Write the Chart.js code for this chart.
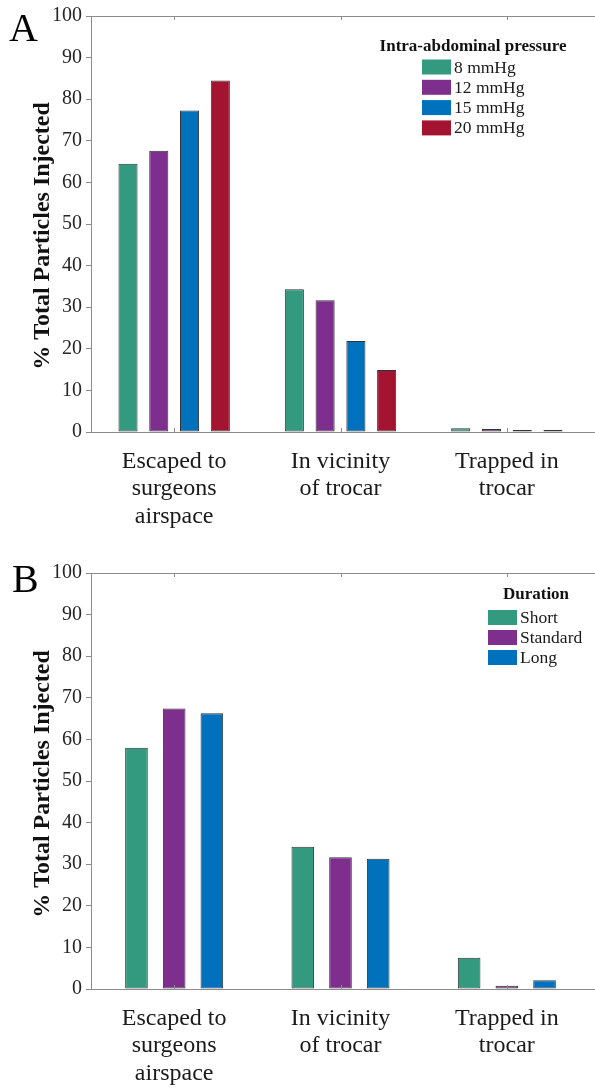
<!DOCTYPE html>
<html><head><meta charset="utf-8">
<script src="https://cdn.jsdelivr.net/npm/chart.js@4.4.1/dist/chart.umd.min.js"></script>
<style>
html,body{margin:0;padding:0;background:#fff;overflow:hidden;}
canvas{display:block;}
</style></head><body>
<canvas id="cA" width="595" height="544"></canvas>
<canvas id="cB" width="595" height="544"></canvas>
<script>
// ---- data ----
const categories = [["Escaped to","surgeons","airspace"],["In vicinity","of trocar"],["Trapped in","trocar"]];
const yTicks = [0,10,20,30,40,50,60,70,80,90,100];
const yAxisTitle = "% Total Particles Injected";

const pressureTitle = "Intra-abdominal pressure";
const pressureLabels = ["8 mmHg","12 mmHg","15 mmHg","20 mmHg"];
const p8  = [64.5, 34.3, 0.9];
const p12 = [67.6, 31.7, 0.7];
const p15 = [77.3, 21.9, 0.5];
const p20 = [84.5, 14.9, 0.5];

const durationTitle = "Duration";
const durationLabels = ["Short","Standard","Long"];
const dShort    = [58.0, 34.2, 7.5];
const dStandard = [67.4, 31.7, 0.8];
const dLong     = [66.3, 31.3, 2.1];

const colors = ["#33997f","#7e2f8e","#0072bd","#a2142f"];
const AX = "#8c8c8c";
const FONT = '"Liberation Serif", "Times New Roman", serif';

const decor = {
  id: 'decor',
  afterDraw(chart, args, o) {
    const ctx = chart.ctx, a = chart.chartArea;
    const W = chart.width;
    ctx.save();
    ctx.strokeStyle = AX; ctx.lineWidth = 1;
    ctx.beginPath();
    ctx.moveTo(a.left, a.top + 0.5); ctx.lineTo(W, a.top + 0.5);
    ctx.moveTo(a.left, Math.round(a.bottom) + 0.5); ctx.lineTo(W, Math.round(a.bottom) + 0.5);
    ctx.stroke();
    const xs = chart.scales.x;
    for (let i = 0; i < chart.data.labels.length; i++) {
      const px = Math.round(xs.getPixelForValue(i)) + 0.5;
      ctx.beginPath();
      ctx.moveTo(px, a.top); ctx.lineTo(px, a.top + 4);
      ctx.moveTo(px, a.bottom); ctx.lineTo(px, a.bottom - 4);
      ctx.stroke();
    }
    // y-axis title
    ctx.save();
    ctx.translate(o.yTitleX, o.yTitleY);
    ctx.rotate(-Math.PI / 2);
    ctx.font = 'bold 24px ' + FONT;
    ctx.fillStyle = '#111';
    ctx.textAlign = 'center'; ctx.textBaseline = 'middle';
    ctx.fillText(yAxisTitle, 0, 0);
    ctx.restore();
    // panel letter
    ctx.fillStyle = '#000';
    ctx.font = '40px ' + FONT;
    ctx.textBaseline = 'alphabetic'; ctx.textAlign = 'left';
    ctx.fillText(o.letter, o.letterX, o.letterY);
    // legend
    ctx.font = 'bold 17px ' + FONT;
    ctx.textAlign = 'center'; ctx.textBaseline = 'middle';
    ctx.fillStyle = '#111';
    ctx.fillText(o.title, o.titleX, o.titleY);
    ctx.font = '17.5px ' + FONT;
    ctx.textAlign = 'left';
    chart.data.datasets.forEach((ds, i) => {
      const cy = o.rowY + i * o.rowStep;
      ctx.fillStyle = ds.backgroundColor;
      ctx.fillRect(o.boxX, cy - 7.5, 29, 15);
      ctx.fillStyle = '#1a1a1a';
      ctx.fillText(ds.label, o.boxX + 32, cy + 1);
    });
    ctx.restore();
  }
};

function makeChart(id, labels, series, cfg) {
  const datasets = series.map((s, i) => ({
    label: labels[i],
    data: s,
    backgroundColor: colors[i],
    borderColor: '#333333',
    borderWidth: 1,
    borderSkipped: false,
    categoryPercentage: cfg.catPct,
    barPercentage: cfg.barPct
  }));
  return new Chart(document.getElementById(id), {
    type: 'bar',
    data: { labels: categories, datasets },
    plugins: [decor],
    options: {
      responsive: false,
      animation: false,
      layout: { padding: { top: cfg.top, right: 5, left: 0, bottom: 0 } },
      plugins: {
        legend: { display: false },
        tooltip: { enabled: false },
        decor: cfg.decor
      },
      scales: {
        x: {
          grid: { display: false, drawTicks: false },
          border: { display: false },
          ticks: { color: '#1a1a1a', font: { family: FONT, size: 24, lineHeight: 1.14 }, padding: 16, maxRotation: 0, autoSkip: false },
          afterFit(s) { s.height = cfg.xHeight; }
        },
        y: {
          min: 0, max: 100,
          afterBuildTicks(s) { s.ticks = yTicks.map(v => ({ value: v })); },
          grid: { drawOnChartArea: false, drawTicks: true, tickLength: 5, color: AX },
          border: { display: true, color: AX, width: 1 },
          ticks: { color: '#262626', font: { family: FONT, size: 20 }, padding: 4 },
          title: { display: false },
          afterFit(s) { s.width = 91; }
        }
      }
    }
  });
}

makeChart('cA', pressureLabels, [p8, p12, p15, p20], {
  catPct: 0.74, barPct: 0.62, top: 16, xHeight: 112,
  decor: { letter: 'A', letterX: 9, letterY: 41, yTitleX: 43, yTitleY: 236, title: pressureTitle, titleX: 473, titleY: 47, boxX: 422, rowY: 67, rowStep: 20.3 }
});
makeChart('cB', durationLabels, [dShort, dStandard, dLong], {
  catPct: 0.68, barPct: 0.6, top: 29, xHeight: 99,
  decor: { letter: 'B', letterX: 12, letterY: 48, yTitleX: 43, yTitleY: 240, title: durationTitle, titleX: 536, titleY: 51, boxX: 488, rowY: 73.5, rowStep: 20 }
});
</script>
</body></html>
